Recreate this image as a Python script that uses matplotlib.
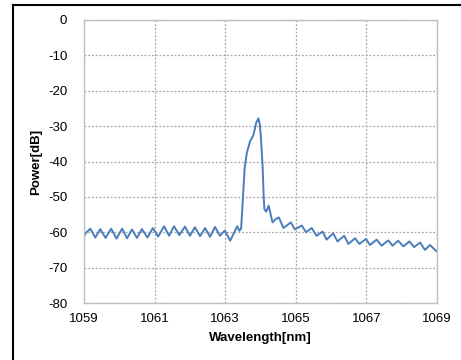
import matplotlib
matplotlib.use("Agg")
import matplotlib.pyplot as plt
from matplotlib.lines import Line2D

wavelength = [
    1059.00, 1059.05, 1059.18, 1059.32, 1059.46, 1059.61, 1059.77, 1059.92,
    1060.08, 1060.22, 1060.36, 1060.50, 1060.64, 1060.80, 1060.95, 1061.10,
    1061.27, 1061.41, 1061.55, 1061.70, 1061.86, 1062.00, 1062.14, 1062.29,
    1062.43, 1062.57, 1062.71, 1062.85, 1062.99, 1063.14, 1063.34, 1063.40,
    1063.45, 1063.50, 1063.55, 1063.61, 1063.70, 1063.80, 1063.88, 1063.94,
    1063.98, 1064.01, 1064.06, 1064.09, 1064.11, 1064.16, 1064.23, 1064.34,
    1064.43, 1064.52, 1064.65, 1064.86, 1064.97, 1065.17, 1065.29, 1065.45,
    1065.59, 1065.76, 1065.87, 1066.06, 1066.18, 1066.37, 1066.49, 1066.68,
    1066.80, 1066.99, 1067.10, 1067.29, 1067.43, 1067.62, 1067.74, 1067.90,
    1068.05, 1068.22, 1068.35, 1068.52, 1068.66, 1068.80, 1068.99,
]
power = [
    -61.2, -60.2, -59.0, -61.5, -59.1, -61.6, -59.0, -61.8,
    -59.0, -61.7, -59.2, -61.6, -59.1, -61.5, -58.8, -61.2,
    -58.3, -61.0, -58.3, -60.8, -58.4, -61.0, -58.6, -61.1,
    -58.8, -61.3, -58.5, -61.0, -59.5, -62.4, -58.3, -59.6,
    -59.0, -50.8, -42.0, -37.7, -34.4, -32.5, -29.0, -27.8,
    -29.5, -33.0, -41.4, -50.0, -53.5, -54.2, -52.5, -57.2,
    -56.3, -55.8, -58.8, -57.2, -59.2, -58.1, -60.0, -58.8,
    -61.0, -59.8, -62.1, -60.3, -62.6, -61.0, -63.3, -61.7,
    -63.3, -61.9, -63.6, -62.1, -63.8, -62.3, -63.8, -62.4,
    -64.0, -62.6, -64.2, -62.9, -65.0, -63.6, -65.4,
]
x_ticks = [1059, 1061, 1063, 1065, 1067, 1069]
y_ticks = [0, -10, -20, -30, -40, -50, -60, -70, -80]

plt.rcParams['font.family'] = ['Liberation Sans', 'DejaVu Sans']

fig = plt.figure(figsize=(4.61, 3.60), dpi=100)
ax = fig.add_axes([84/461, 1-303/360, (437-84)/461, (303-20)/360])

ax.plot(wavelength, power, color='#4a7ebb', linewidth=1.4,
        solid_joinstyle='round', solid_capstyle='round')
ax.set_xlim(1059, 1069)
ax.set_ylim(-80, 0)
ax.set_xticks(x_ticks)
ax.set_yticks(y_ticks)
ax.set_xticklabels([str(t) for t in x_ticks])
ax.set_yticklabels([str(t) for t in y_ticks])
ax.tick_params(axis='both', length=0, labelsize=9.5, colors='#000000')
ax.tick_params(axis='y', pad=12)
ax.tick_params(axis='x', pad=7)
ax.grid(True, color='#a6a6a6', linestyle=(0, (1.5, 1.5)), linewidth=0.9)
ax.set_axisbelow(True)
for s in ax.spines.values():
    s.set_color('#bfbfbf')
    s.set_linewidth(1.0)

ax.set_xlabel('Wavelength[nm]', fontsize=9.5, fontweight='bold', labelpad=5)
ax.set_ylabel('Power[dB]', fontsize=9.5, fontweight='bold', labelpad=4)

# outer frame (top and left edges)
fig.add_artist(Line2D([13/461, 1.0], [1-5/360, 1-5/360], color='black', linewidth=1.5, transform=fig.transFigure))
fig.add_artist(Line2D([13/461, 13/461], [0.0, 1-5/360], color='black', linewidth=1.5, transform=fig.transFigure))

fig.savefig('out.png', dpi=100)
